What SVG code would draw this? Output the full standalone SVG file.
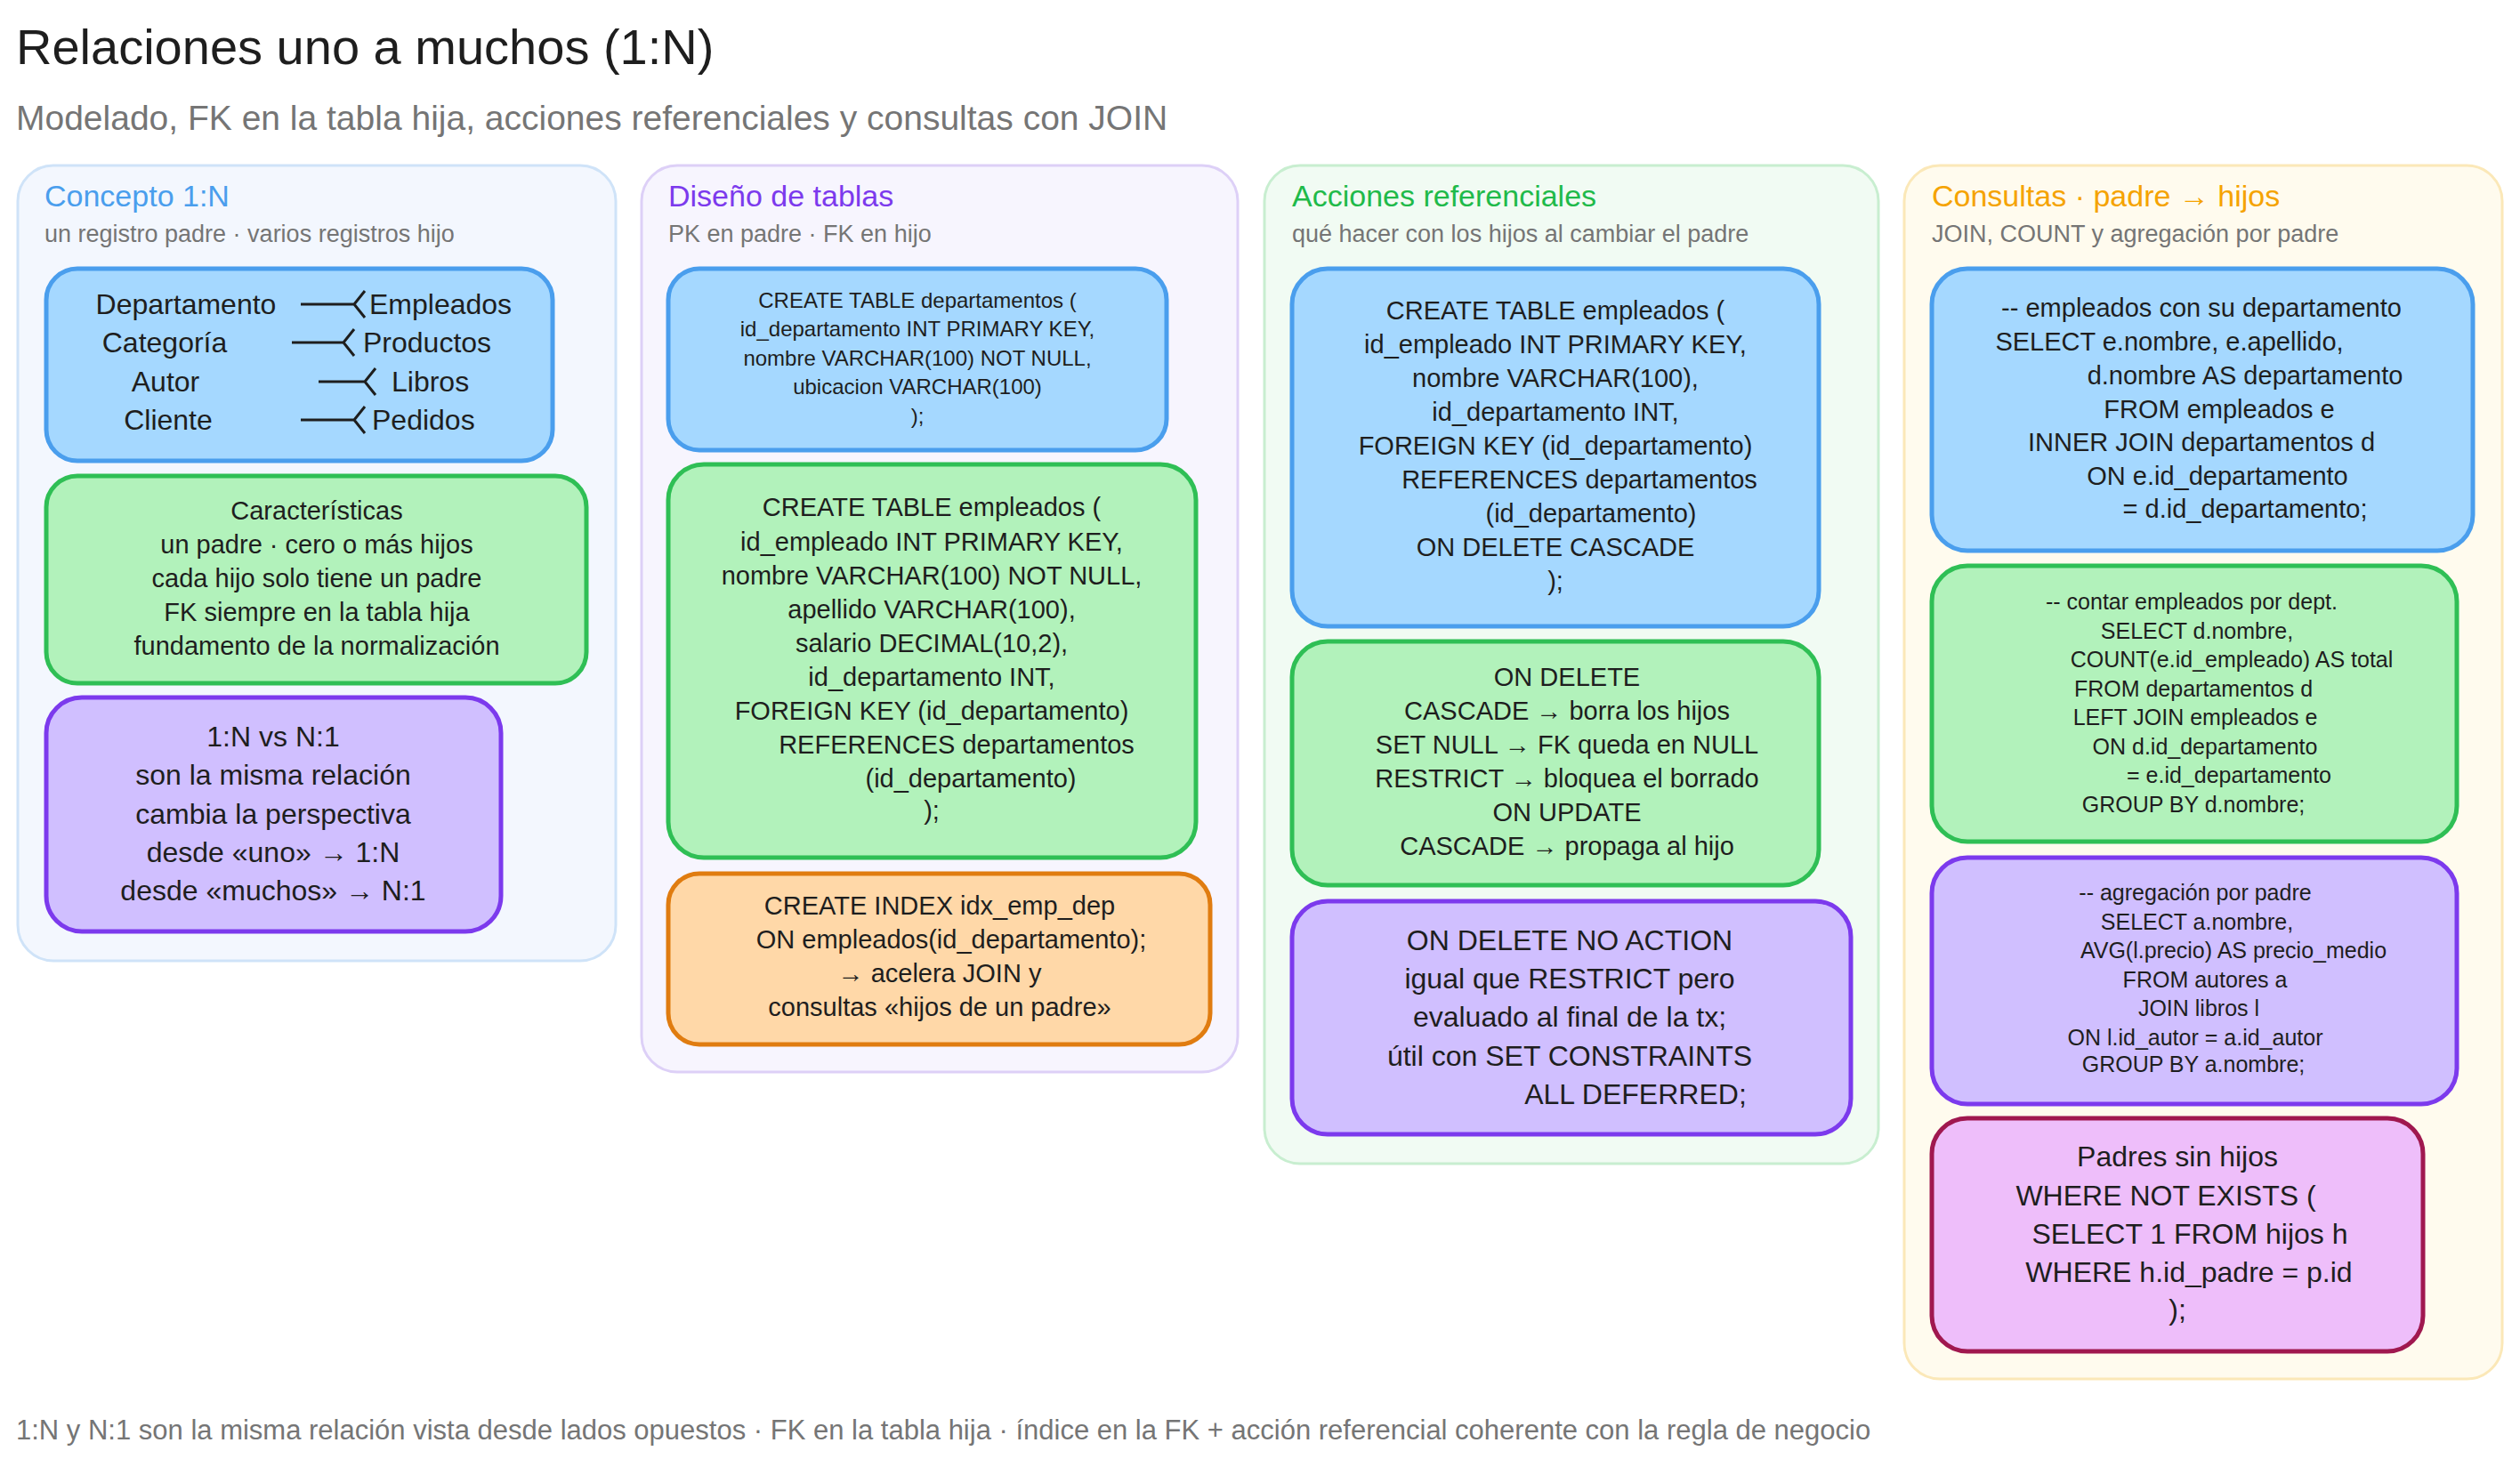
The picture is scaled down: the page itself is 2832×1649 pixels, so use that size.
<svg xmlns="http://www.w3.org/2000/svg" width="2832" height="1649" viewBox="0 0 2832 1649">
<style>
text{font-family:"Liberation Sans","Noto Sans",sans-serif;fill:#1e1e1e}
.c{text-anchor:middle}
.col{stroke-width:3}
.n{stroke-width:5}
.b{fill:#a5d8ff;stroke:#4a9eed}
.g{fill:#b2f2bb;stroke:#2fbf55}
.p{fill:#d0bfff;stroke:#7c3aed}
.o{fill:#ffd8a8;stroke:#e07c10}
.k{fill:#eebefa;stroke:#a0184f}
.h{font-size:34px}
.s{font-size:27px;fill:#757575}
.t29{font-size:29px}
.t32{font-size:32px}
.t24{font-size:24px}
.t25{font-size:25px}
</style>
<rect width="2832" height="1649" fill="#ffffff"/>
<text x="18" y="72" style="font-size:56px">Relaciones uno a muchos (1:N)</text>
<text x="18" y="146" style="font-size:39px;fill:#757575">Modelado, FK en la tabla hija, acciones referenciales y consultas con JOIN</text>

<g id="col1">
<rect class="col" x="20" y="186" width="672" height="894" rx="40" fill="#f3f7fe" stroke="#cfe3f8"/>
<text x="50" y="232" class="h" style="fill:#4a9eed">Concepto 1:N</text>
<text x="50" y="272" class="s">un registro padre · varios registros hijo</text>
</g>
<g id="col2">
<rect class="col" x="721" y="186" width="670" height="1019" rx="40" fill="#f7f5fe" stroke="#ddd0f7"/>
<text x="751" y="232" class="h" style="fill:#7c3aed">Diseño de tablas</text>
<text x="751" y="272" class="s">PK en padre · FK en hijo</text>
</g>
<g id="col3">
<rect class="col" x="1421" y="186" width="690" height="1122" rx="40" fill="#f1fbf3" stroke="#c8eed0"/>
<text x="1452" y="232" class="h" style="fill:#1fba4a">Acciones referenciales</text>
<text x="1452" y="272" class="s">qué hacer con los hijos al cambiar el padre</text>
</g>
<g id="col4">
<rect class="col" x="2140" y="186" width="672" height="1364" rx="40" fill="#fffbee" stroke="#fbe8b8"/>
<text x="2171" y="232" class="h" style="fill:#f5a300">Consultas · padre → hijos</text>
<text x="2171" y="272" class="s">JOIN, COUNT y agregación por padre</text>
</g>

<g id="n_ejemplos">
<rect class="n b" x="52" y="302" width="569" height="216" rx="35"/>
<g class="t32"><text x="209" y="353" class="c">Departamento</text><text x="415" y="353">Empleados</text>
<text x="185" y="396" class="c">Categoría</text><text x="408" y="396">Productos</text>
<text x="186" y="440" class="c">Autor</text><text x="440" y="440">Libros</text>
<text x="189" y="483" class="c">Cliente</text><text x="418" y="483">Pedidos</text></g>
</g>
<g id="n_caract">
<rect class="n g" x="52" y="535" width="607" height="233" rx="35"/>
<g class="t29"><text x="356" y="584" class="c">Características</text><text x="356" y="622" class="c">un padre · cero o más hijos</text><text x="356" y="660" class="c">cada hijo solo tiene un padre</text><text x="356" y="698" class="c">FK siempre en la tabla hija</text><text x="356" y="736" class="c">fundamento de la normalización</text></g>
</g>
<g id="n_vs">
<rect class="n p" x="52" y="784" width="511" height="263" rx="40"/>
<g class="t32"><text x="307" y="839" class="c">1:N vs N:1</text><text x="307" y="882" class="c">son la misma relación</text><text x="307" y="926" class="c">cambia la perspectiva</text><text x="307" y="969" class="c">desde «uno» → 1:N</text><text x="307" y="1012" class="c">desde «muchos» → N:1</text></g>
</g>

<g id="n_dep">
<rect class="n b" x="751" y="302" width="560" height="204" rx="35"/>
<g class="t24"><text x="1031" y="346" class="c">CREATE TABLE departamentos (</text><text x="1031" y="378" class="c">id_departamento INT PRIMARY KEY,</text><text x="1031" y="411" class="c">nombre VARCHAR(100) NOT NULL,</text><text x="1031" y="443" class="c">ubicacion VARCHAR(100)</text><text x="1031" y="476" class="c">);</text></g>
</g>
<g id="n_emp">
<rect class="n g" x="751" y="522" width="593" height="442" rx="40"/>
<g class="t29"><text x="1047" y="580" class="c">CREATE TABLE empleados (</text><text x="1047" y="619" class="c">id_empleado INT PRIMARY KEY,</text><text x="1047" y="657" class="c">nombre VARCHAR(100) NOT NULL,</text><text x="1047" y="695" class="c">apellido VARCHAR(100),</text><text x="1047" y="733" class="c">salario DECIMAL(10,2),</text><text x="1047" y="771" class="c">id_departamento INT,</text><text x="1047" y="809" class="c">FOREIGN KEY (id_departamento)</text><text x="1075" y="847" class="c">REFERENCES departamentos</text><text x="1091" y="885" class="c">(id_departamento)</text><text x="1047" y="921" class="c">);</text></g>
</g>
<g id="n_idx">
<rect class="n o" x="751" y="982" width="609" height="192" rx="35"/>
<g class="t29"><text x="1056" y="1028" class="c">CREATE INDEX idx_emp_dep</text><text x="1069" y="1066" class="c">ON empleados(id_departamento);</text><text x="1056" y="1104" class="c">→ acelera JOIN y</text><text x="1056" y="1142" class="c">consultas «hijos de un padre»</text></g>
</g>

<g id="n_cascade">
<rect class="n b" x="1452" y="302" width="592" height="402" rx="40"/>
<g class="t29"><text x="1748" y="359" class="c">CREATE TABLE empleados (</text><text x="1748" y="397" class="c">id_empleado INT PRIMARY KEY,</text><text x="1748" y="435" class="c">nombre VARCHAR(100),</text><text x="1748" y="473" class="c">id_departamento INT,</text><text x="1748" y="511" class="c">FOREIGN KEY (id_departamento)</text><text x="1775" y="549" class="c">REFERENCES departamentos</text><text x="1788" y="587" class="c">(id_departamento)</text><text x="1748" y="625" class="c">ON DELETE CASCADE</text><text x="1748" y="663" class="c">);</text></g>
</g>
<g id="n_acciones">
<rect class="n g" x="1452" y="721" width="592" height="274" rx="40"/>
<g class="t29"><text x="1761" y="771" class="c">ON DELETE</text><text x="1761" y="809" class="c">CASCADE  → borra los hijos</text><text x="1761" y="847" class="c">SET NULL → FK queda en NULL</text><text x="1761" y="885" class="c">RESTRICT → bloquea el borrado</text><text x="1761" y="923" class="c">ON UPDATE</text><text x="1761" y="961" class="c">CASCADE  → propaga al hijo</text></g>
</g>
<g id="n_noaction">
<rect class="n p" x="1452" y="1013" width="628" height="262" rx="40"/>
<g style="font-size:32px"><text x="1764" y="1068" class="c">ON DELETE NO ACTION</text><text x="1764" y="1111" class="c">igual que RESTRICT pero</text><text x="1764" y="1154" class="c">evaluado al final de la tx;</text><text x="1764" y="1198" class="c">útil con SET CONSTRAINTS</text><text x="1838" y="1241" class="c">ALL DEFERRED;</text></g>
</g>

<g id="n_join">
<rect class="n b" x="2171" y="302" width="608" height="317" rx="40"/>
<g class="t29"><text x="2474" y="356" class="c">-- empleados con su departamento</text><text x="2438" y="394" class="c">SELECT e.nombre, e.apellido,</text><text x="2523" y="432" class="c">d.nombre AS departamento</text><text x="2494" y="470" class="c">FROM empleados e</text><text x="2474" y="507" class="c">INNER JOIN departamentos d</text><text x="2492" y="545" class="c">ON e.id_departamento</text><text x="2523" y="582" class="c">= d.id_departamento;</text></g>
</g>
<g id="n_count">
<rect class="n g" x="2171" y="636" width="590" height="310" rx="40"/>
<g class="t25"><text x="2463" y="685" class="c">-- contar empleados por dept.</text><text x="2469" y="718" class="c">SELECT d.nombre,</text><text x="2508" y="750" class="c">COUNT(e.id_empleado) AS total</text><text x="2465" y="783" class="c">FROM departamentos d</text><text x="2467" y="815" class="c">LEFT JOIN empleados e</text><text x="2478" y="848" class="c">ON d.id_departamento</text><text x="2505" y="880" class="c">= e.id_departamento</text><text x="2465" y="913" class="c">GROUP BY d.nombre;</text></g>
</g>
<g id="n_avg">
<rect class="n p" x="2171" y="964" width="590" height="277" rx="40"/>
<g class="t25"><text x="2467" y="1012" class="c">-- agregación por padre</text><text x="2469" y="1045" class="c">SELECT a.nombre,</text><text x="2510" y="1077" class="c">AVG(l.precio) AS precio_medio</text><text x="2478" y="1110" class="c">FROM autores a</text><text x="2471" y="1142" class="c">JOIN libros l</text><text x="2467" y="1175" class="c">ON l.id_autor = a.id_autor</text><text x="2465" y="1205" class="c">GROUP BY a.nombre;</text></g>
</g>
<g id="n_sinhijos">
<rect class="n k" x="2171" y="1257" width="552" height="262" rx="40"/>
<g class="t32"><text x="2447" y="1311" class="c">Padres sin hijos</text><text x="2434" y="1355" class="c">WHERE NOT EXISTS (</text><text x="2461" y="1398" class="c">SELECT 1 FROM hijos h</text><text x="2460" y="1441" class="c">WHERE h.id_padre = p.id</text><text x="2447" y="1483" class="c">);</text></g>
</g>

<g id="connectors" stroke="#1e1e1e" stroke-width="3" fill="none">
<path d="M338 342 H398 M398 342 L410 327 M398 342 L410 357"/>
<path d="M328 385 H386 M386 385 L398 370 M386 385 L398 400"/>
<path d="M358 429 H410 M410 429 L422 414 M410 429 L422 444"/>
<path d="M338 472 H398 M398 472 L410 457 M398 472 L410 487"/>
</g>

<text x="18" y="1618" style="font-size:31px;fill:#757575">1:N y N:1 son la misma relación vista desde lados opuestos · FK en la tabla hija · índice en la FK + acción referencial coherente con la regla de negocio</text>
</svg>
